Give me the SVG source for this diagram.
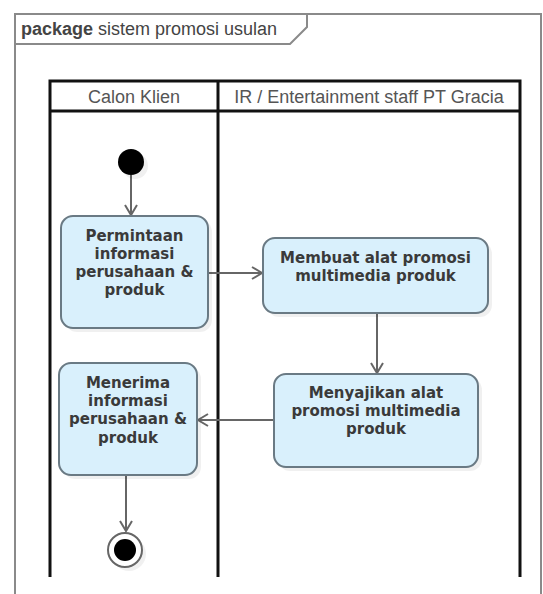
<svg xmlns="http://www.w3.org/2000/svg" width="543" height="594" viewBox="0 0 543 594">
<style>
.frame{fill:none;stroke:#8a8a8a;stroke-width:2}
.lane{fill:none;stroke:#111;stroke-width:3}
.act{fill:#d9f0fc;stroke:#6a7a84;stroke-width:2}
.shadow{fill:#000;opacity:0.06}
.t{font-family:"DejaVu Sans",Verdana,sans-serif;font-weight:bold;font-size:15px;fill:#3a3a3a;text-anchor:middle}
.hdr{font-family:"Liberation Sans",Arial,sans-serif;font-size:18px;fill:#555;text-anchor:middle}
.edge{fill:none;stroke:#666;stroke-width:2}
</style>
<defs>
<marker id="arr" markerWidth="14" markerHeight="14" refX="11" refY="7" orient="auto" markerUnits="userSpaceOnUse">
<path d="M1,1 L11,7 L1,13" fill="none" stroke="#666" stroke-width="2"/>
</marker>
</defs>
<rect width="543" height="594" fill="#fff"/>
<g id="package">
<path class="frame" d="M15,600 V14 H541 V600"/>
<path class="frame" d="M15,44 H290 L307,27 V14"/>
<text x="21" y="35" font-family="Liberation Sans,Arial,sans-serif" font-size="18px" fill="#444"><tspan font-weight="bold">package</tspan> sistem promosi usulan</text>
</g>
<g id="lanes">
<path class="lane" d="M50,577 V81 H520 V577 M218,81 V577 M50,111 H520"/>
<text class="hdr" x="134" y="103">Calon Klien</text>
<text class="hdr" x="369" y="103">IR / Entertainment staff PT Gracia</text>
</g>
<g id="connectors">
<line class="edge" x1="131" y1="175" x2="131" y2="215" marker-end="url(#arr)"/>
<line class="edge" x1="208" y1="273" x2="262" y2="273" marker-end="url(#arr)"/>
<line class="edge" x1="377" y1="313" x2="377" y2="373" marker-end="url(#arr)"/>
<line class="edge" x1="274" y1="420" x2="198" y2="420" marker-end="url(#arr)"/>
<line class="edge" x1="126" y1="475" x2="126" y2="531" marker-end="url(#arr)"/>
</g>
<g id="start">
<circle class="shadow" cx="135" cy="166" r="13"/>
<circle cx="131" cy="162" r="13" fill="#000"/>
</g>
<g id="permintaan">
<rect class="shadow" x="65" y="220" width="147" height="112" rx="12"/>
<rect class="act" x="61" y="216" width="147" height="112" rx="12"/>
<text class="t" x="134.5"><tspan x="134.5" y="241">Permintaan</tspan><tspan x="134.5" y="259">informasi</tspan><tspan x="134.5" y="277">perusahaan &amp;</tspan><tspan x="134.5" y="295">produk</tspan></text>
</g>
<g id="membuat">
<rect class="shadow" x="267" y="242" width="225" height="75" rx="12"/>
<rect class="act" x="263" y="238" width="225" height="75" rx="12"/>
<text class="t" x="375.5"><tspan x="375.5" y="263">Membuat alat promosi</tspan><tspan x="375.5" y="281">multimedia produk</tspan></text>
</g>
<g id="menyajikan">
<rect class="shadow" x="278" y="378" width="204" height="93" rx="12"/>
<rect class="act" x="274" y="374" width="204" height="93" rx="12"/>
<text class="t" x="376"><tspan x="376" y="398">Menyajikan alat</tspan><tspan x="376" y="416">promosi multimedia</tspan><tspan x="376" y="434">produk</tspan></text>
</g>
<g id="menerima">
<rect class="shadow" x="63" y="367" width="138" height="112" rx="12"/>
<rect class="act" x="59" y="363" width="138" height="112" rx="12"/>
<text class="t" x="128"><tspan x="128" y="388">Menerima</tspan><tspan x="128" y="406">informasi</tspan><tspan x="128" y="424">perusahaan &amp;</tspan><tspan x="128" y="443">produk</tspan></text>
</g>
<g id="end">
<circle class="shadow" cx="129" cy="554" r="17"/>
<circle cx="125" cy="550" r="17" fill="#fff" stroke="#666" stroke-width="2"/>
<circle cx="125" cy="550" r="11" fill="#000"/>
</g>
</svg>
